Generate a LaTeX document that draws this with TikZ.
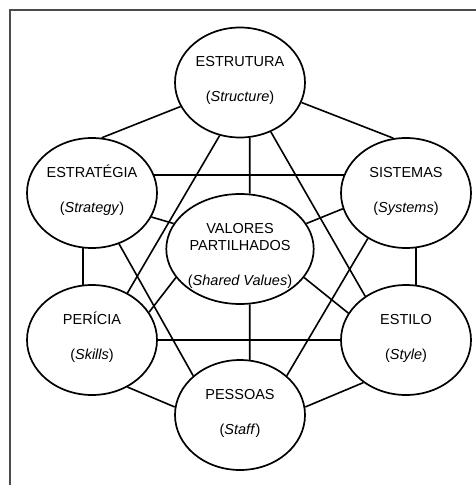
\documentclass[tikz,border=0pt]{standalone}
\usepackage{fontspec}
\setmainfont{Liberation Sans}
\usetikzlibrary{shapes.geometric}
\newcommand{\factortext}[1]{\raisebox{16pt}[0pt][0pt]{\begin{tabular}[t]{@{}c@{}}#1\end{tabular}}}
\begin{document}
\begin{tikzpicture}[x=1pt,y=-1pt,
  factor/.style={ellipse,draw,line width=1.7pt,minimum width=130pt,minimum height=110pt,
    inner sep=0pt,font=\fontsize{14.5}{17.5}\selectfont},
  link/.style={line width=1.6pt}]
\useasboundingbox (0,0) rectangle (476,485);
\draw [black!70,line width=2pt] (9.5,485) -- (9.5,10) -- (476,10);
% the seven factors
\node [factor] (estrutura) at (240,82.5) {\factortext{ESTRUTURA\\ \\(\textit{Structure})}};
\node [factor] (estrategia) at (92,193) {\factortext{ESTRATÉGIA\\ \\(\textit{Strategy})}};
\node [factor] (sistemas) at (406,193) {\factortext{SISTEMAS\\ \\(\textit{Systems})}};
\node [factor] (valores) at (240,249) {\factortext{VALORES\\PARTILHADOS\\ \\(\textit{Shared Values})}};
\node [factor] (pericia) at (92,340) {\factortext{PERÍCIA\\ \\(\textit{Skills})}};
\node [factor] (estilo) at (406,340) {\factortext{ESTILO\\ \\(\textit{Style})}};
\node [factor] (pessoas) at (240,415) {\factortext{PESSOAS\\ \\(\textit{Staff})}};
% links
\draw [link] (estrutura.202) -- (estrategia.80);
\draw [link] (estrutura.-18) -- (sistemas.103);
\draw [link] (estrutura.-80) -- (valores.80);
\draw [link] (estrutura.249) -- (pericia.53);
\draw [link] (estrutura.-58) -- (estilo.133);
\draw [link] (estrategia.16) -- (sistemas.164);
\draw [link] (estrategia.-22) -- (valores.159);
\draw [link] (estrategia.-99) -- (pericia.99);
\draw [link] (estrategia.-62) -- (pessoas.140);
\draw [link] (sistemas.194) -- (valores.21);
\draw [link] (sistemas.-80) -- (estilo.80);
\draw [link] (sistemas.230) -- (pessoas.40);
\draw [link] (valores.204) -- (pericia.26);
\draw [link] (valores.-24) -- (estilo.155);
\draw [link] (valores.-80) -- (pessoas.80);
\draw [link] (pericia.0) -- (estilo.180);
\draw [link] (pericia.-53) -- (pessoas.173);
\draw [link] (estilo.225) -- (pessoas.7);
\end{tikzpicture}
\end{document}
